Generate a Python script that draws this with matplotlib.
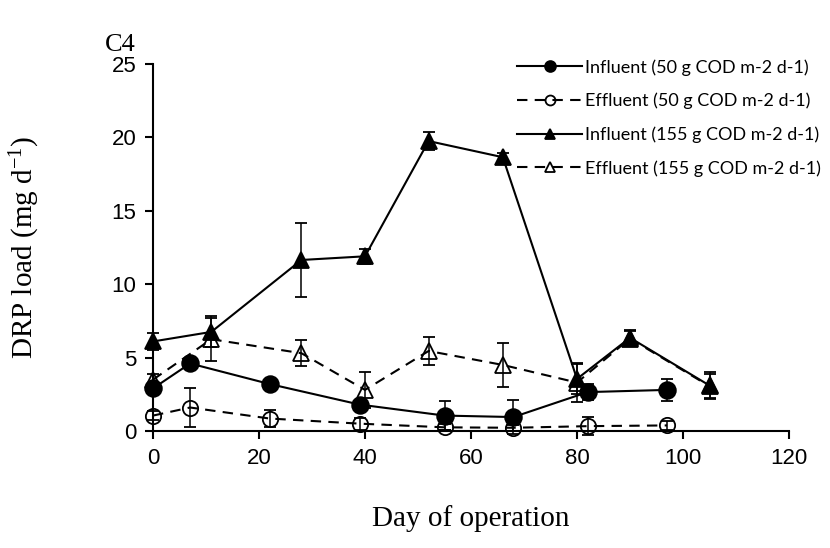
"""
DRP load, reactor C4: influent/effluent at two COD loading rates.
Produces: out.png
"""
import matplotlib
matplotlib.use("Agg")
import matplotlib.pyplot as plt

# ── Data ─────────────────────────────────────────────────────────────────────
days_inf50 = [0, 7, 22, 39, 55, 68, 82, 97]
inf50      = [2.9, 4.6, 3.2, 1.8, 1.05, 0.95, 2.65, 2.8]
inf50_err  = [0.2, 0.2, 0.2, 0.2, 1.0, 1.15, 0.55, 0.75]

days_eff50 = [0, 7, 22, 39, 55, 68, 82, 97]
eff50      = [1.05, 1.6, 0.85, 0.5, 0.25, 0.22, 0.33, 0.38]
eff50_err  = [0.3, 1.35, 0.6, 0.4, 0.2, 0.2, 0.6, 0.3]

days_inf155 = [0, 11, 28, 40, 52, 66, 80, 90, 105]
inf155      = [6.1, 6.75, 11.65, 11.9, 19.75, 18.65, 3.55, 6.35, 3.1]
inf155_err  = [0.55, 1.05, 2.5, 0.5, 0.6, 0.3, 1.0, 0.5, 0.9]

days_eff155 = [0, 11, 28, 40, 52, 66, 80, 90, 105]
eff155      = [3.5, 6.25, 5.3, 2.8, 5.45, 4.5, 3.3, 6.3, 3.05]
eff155_err  = [0.4, 1.45, 0.9, 1.2, 0.95, 1.5, 1.3, 0.5, 0.8]

labels = ["Influent (50 g COD m-2 d-1)", "Effluent (50 g COD m-2 d-1)",
          "Influent (155 g COD m-2 d-1)", "Effluent (155 g COD m-2 d-1)"]

x_ticks = [0, 20, 40, 60, 80, 100, 120]
y_ticks = [0, 5, 10, 15, 20, 25]

plt.rcParams["mathtext.fontset"] = "custom"
plt.rcParams["mathtext.rm"] = "Liberation Serif"
plt.rcParams["mathtext.it"] = "Liberation Serif:italic"

fig = plt.figure(figsize=(8.3, 5.48), dpi=100)
fig.patch.set_facecolor("white")
ax = fig.add_axes([153 / 830, 1 - 431 / 548, 636 / 830, 367 / 548])

DASH = (0, (5, 3.5))
common = dict(color="black", lw=1.5, capsize=4.3, elinewidth=1.1, capthick=1.1)

series = [
    (days_inf50, inf50, inf50_err, "o", "black", "-", 12),
    (days_eff50, eff50, eff50_err, "o", "none", DASH, 11),
    (days_inf155, inf155, inf155_err, "^", "black", "-", 12),
    (days_eff155, eff155, eff155_err, "^", "none", DASH, 11),
]
handles = []
for (xs, ys, es, mk, fc, ls, ms), lab in zip(series, labels):
    h = ax.errorbar(xs, ys, yerr=es, marker=mk, markersize=ms,
                    markerfacecolor=fc, markeredgecolor="black",
                    markeredgewidth=1.3, linestyle=ls, label=lab,
                    clip_on=False, **common)
    handles.append(h[0])

ax.set_xlim(0, 120)
ax.set_ylim(0, 25)
ax.set_xticks(x_ticks)
ax.set_yticks(y_ticks)
ax.spines[["top", "right"]].set_visible(False)
for s in ("left", "bottom"):
    ax.spines[s].set_linewidth(1.5)
ax.tick_params(direction="out", length=6, width=1.5, labelsize=16, pad=6)
for t in ax.get_xticklabels() + ax.get_yticklabels():
    t.set_fontfamily("Liberation Sans")

ax.set_xlabel("Day of operation", fontsize=21, fontfamily="Liberation Serif")
ax.xaxis.set_label_coords(0.5, -0.2016)
ax.set_ylabel("DRP load (mg d$^{-1}$)", fontsize=21, fontfamily="Liberation Serif")
ax.yaxis.set_label_coords(-0.1745, 0.5)

fig.text(105 / 830, 1 - 45 / 548, "C4", fontsize=19, fontfamily="Liberation Serif",
         ha="left", va="center")

leg = fig.legend(handles, labels, loc="upper left",
                 bbox_to_anchor=(517 / 830, 1 - 59 / 548),
                 frameon=False, borderpad=0, borderaxespad=0,
                 handlelength=3.6, handletextpad=0.15, labelspacing=0.95,
                 markerscale=0.65, prop={"family": "Lato", "size": 13})

fig.savefig("out.png", dpi=100, facecolor="white")
